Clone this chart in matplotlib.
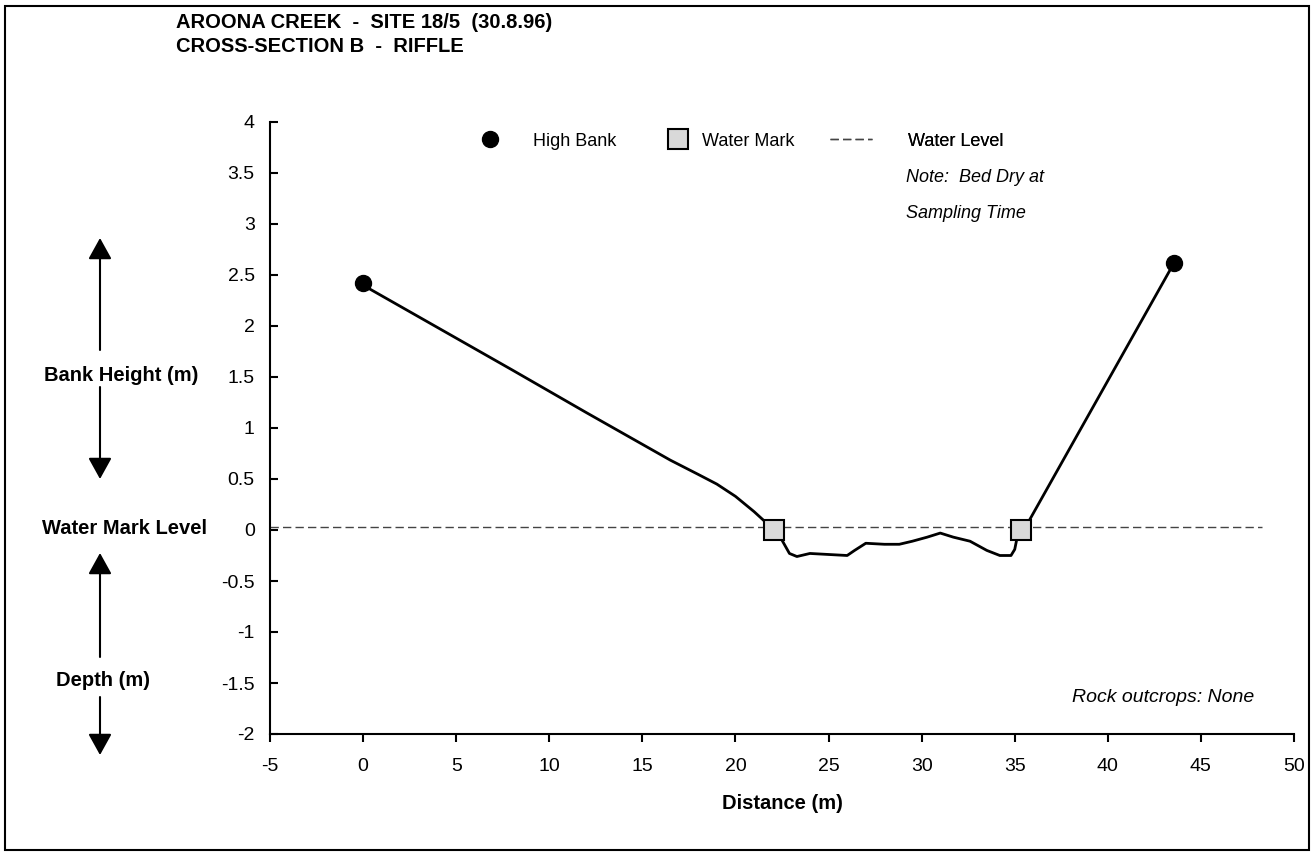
import numpy as np
import matplotlib
matplotlib.use('Agg')
import matplotlib.pyplot as plt
from matplotlib.patches import FancyArrowPatch, Rectangle

plt.rcParams['font.family'] = ['Liberation Sans', 'DejaVu Sans']

W, H = 1315, 856

# ---------------------------------------------------------
# data read off the surveyed cross-section
# ---------------------------------------------------------
profile_x = [0.0, 4.0, 8.0, 12.0, 15.0, 16.5, 18.0, 19.0, 20.0, 21.0, 21.6, 22.05,
             22.5, 22.9, 23.3, 24.0, 25.0, 26.0, 26.4, 27.0, 28.0, 28.8, 29.5,
             30.3, 31.0, 31.7, 32.6, 33.5, 34.2, 34.8, 35.0, 35.1, 35.35, 35.8, 43.5]
profile_y = [2.40, 1.985, 1.57, 1.15, 0.84, 0.685, 0.545, 0.45, 0.33, 0.18, 0.08, 0.0,
             -0.10, -0.23, -0.26, -0.23, -0.24, -0.25, -0.20, -0.13, -0.14, -0.14, -0.11,
             -0.07, -0.03, -0.07, -0.11, -0.20, -0.25, -0.25, -0.19, -0.10, 0.0, 0.10, 2.60]

bank_x = [0.0, 43.55]
bank_y = [2.42, 2.62]

mark_x = [22.05, 35.35]
mark_y = [0.0, 0.0]

level_x = [-5.0, 48.3]
level_y = [0.03, 0.03]

x_ticks = [-5, 0, 5, 10, 15, 20, 25, 30, 35, 40, 45, 50]
y_ticks = [-2, -1.5, -1, -0.5, 0, 0.5, 1, 1.5, 2, 2.5, 3, 3.5, 4]


def fx(px):
    return px / W


def fy(py):
    return 1 - py / H


fig = plt.figure(figsize=(W / 100, H / 100), dpi=100)
ax = fig.add_axes([fx(270), fy(734), (1294 - 270) / W, (734 - 122) / H])

ax.plot(profile_x, profile_y, color='black', lw=2, zorder=3)
wl, = ax.plot(level_x, level_y, color='#444444', lw=1, dashes=(6, 3), zorder=2)
hb, = ax.plot(bank_x, bank_y, 'o', color='black', ms=11.5, zorder=4)
wm, = ax.plot(mark_x, mark_y, 's', mfc='#d9d9d9', mec='black', mew=1.5, ms=14, zorder=4)

ax.set_xlim(-5, 50)
ax.set_ylim(-2, 4)
ax.set_xticks(x_ticks)
ax.set_yticks(y_ticks)
ax.set_xticklabels([f'{v:g}' for v in x_ticks])
ax.set_yticklabels([f'{v:g}' for v in y_ticks])
ax.tick_params(axis='x', direction='out', length=6, width=1.5, pad=11, labelsize=14)
ax.tick_params(axis='y', direction='in', length=6, width=1.5, pad=11, labelsize=14)
for s in ['top', 'right']:
    ax.spines[s].set_visible(False)
for s in ['left', 'bottom']:
    ax.spines[s].set_linewidth(1.5)
ax.set_xlabel('Distance (m)', fontsize=14.5, fontweight='bold', labelpad=14)

# legend, one entry each so the spacing can follow the original
leg_items = [(hb, 'High Bank', 472, 2.0, 1.4),
             (wm, 'Water Mark', 660, 2.0, 0.35),
             (wl, 'Water Level', 830, 2.3, 2.0)]
for h, lab, left, hl, tp in leg_items:
    lg = ax.legend([h], [lab], loc='center left', bbox_to_anchor=(fx(left), fy(141)),
                   bbox_transform=fig.transFigure, frameon=False, borderpad=0,
                   borderaxespad=0, handlelength=hl, handletextpad=tp, fontsize=13)
    ax.add_artist(lg)

# notes
fig.text(fx(906), fy(178), 'Note:  Bed Dry at', fontsize=13, style='italic', va='center')
fig.text(fx(906), fy(213), 'Sampling Time', fontsize=13, style='italic', va='center')
fig.text(fx(1254), fy(697), 'Rock outcrops: None', fontsize=14, style='italic',
         va='center', ha='right')

# titles
fig.text(fx(176), fy(22), 'AROONA CREEK  -  SITE 18/5  (30.8.96)', fontsize=14.5,
         fontweight='bold', va='center')
fig.text(fx(176), fy(46), 'CROSS-SECTION B  -  RIFFLE', fontsize=14.5,
         fontweight='bold', va='center')

# side labels with arrows
fig.text(fx(121), fy(376), 'Bank Height (m)', fontsize=14.5, fontweight='bold',
         ha='center', va='center')
fig.text(fx(124), fy(528), 'Water Mark Level', fontsize=14.5, fontweight='bold',
         ha='center', va='center')
fig.text(fx(103), fy(680), 'Depth (m)', fontsize=14.5, fontweight='bold',
         ha='center', va='center')

arrows = [(350, 238), (387, 479), (657, 553), (697, 755)]
for tail, tip in arrows:
    a = FancyArrowPatch((fx(100), fy(tail)), (fx(100), fy(tip)), transform=fig.transFigure,
                        arrowstyle='-|>,head_length=1.3,head_width=0.72', mutation_scale=10,
                        color='black', lw=1.5, shrinkA=0, shrinkB=0)
    fig.add_artist(a)

# outer frame
fig.add_artist(Rectangle((fx(5), fy(850)), (1309 - 5) / W, (850 - 6) / H,
                         transform=fig.transFigure, fill=False, lw=1.5, ec='black'))

fig.savefig('out.png', dpi=100)
